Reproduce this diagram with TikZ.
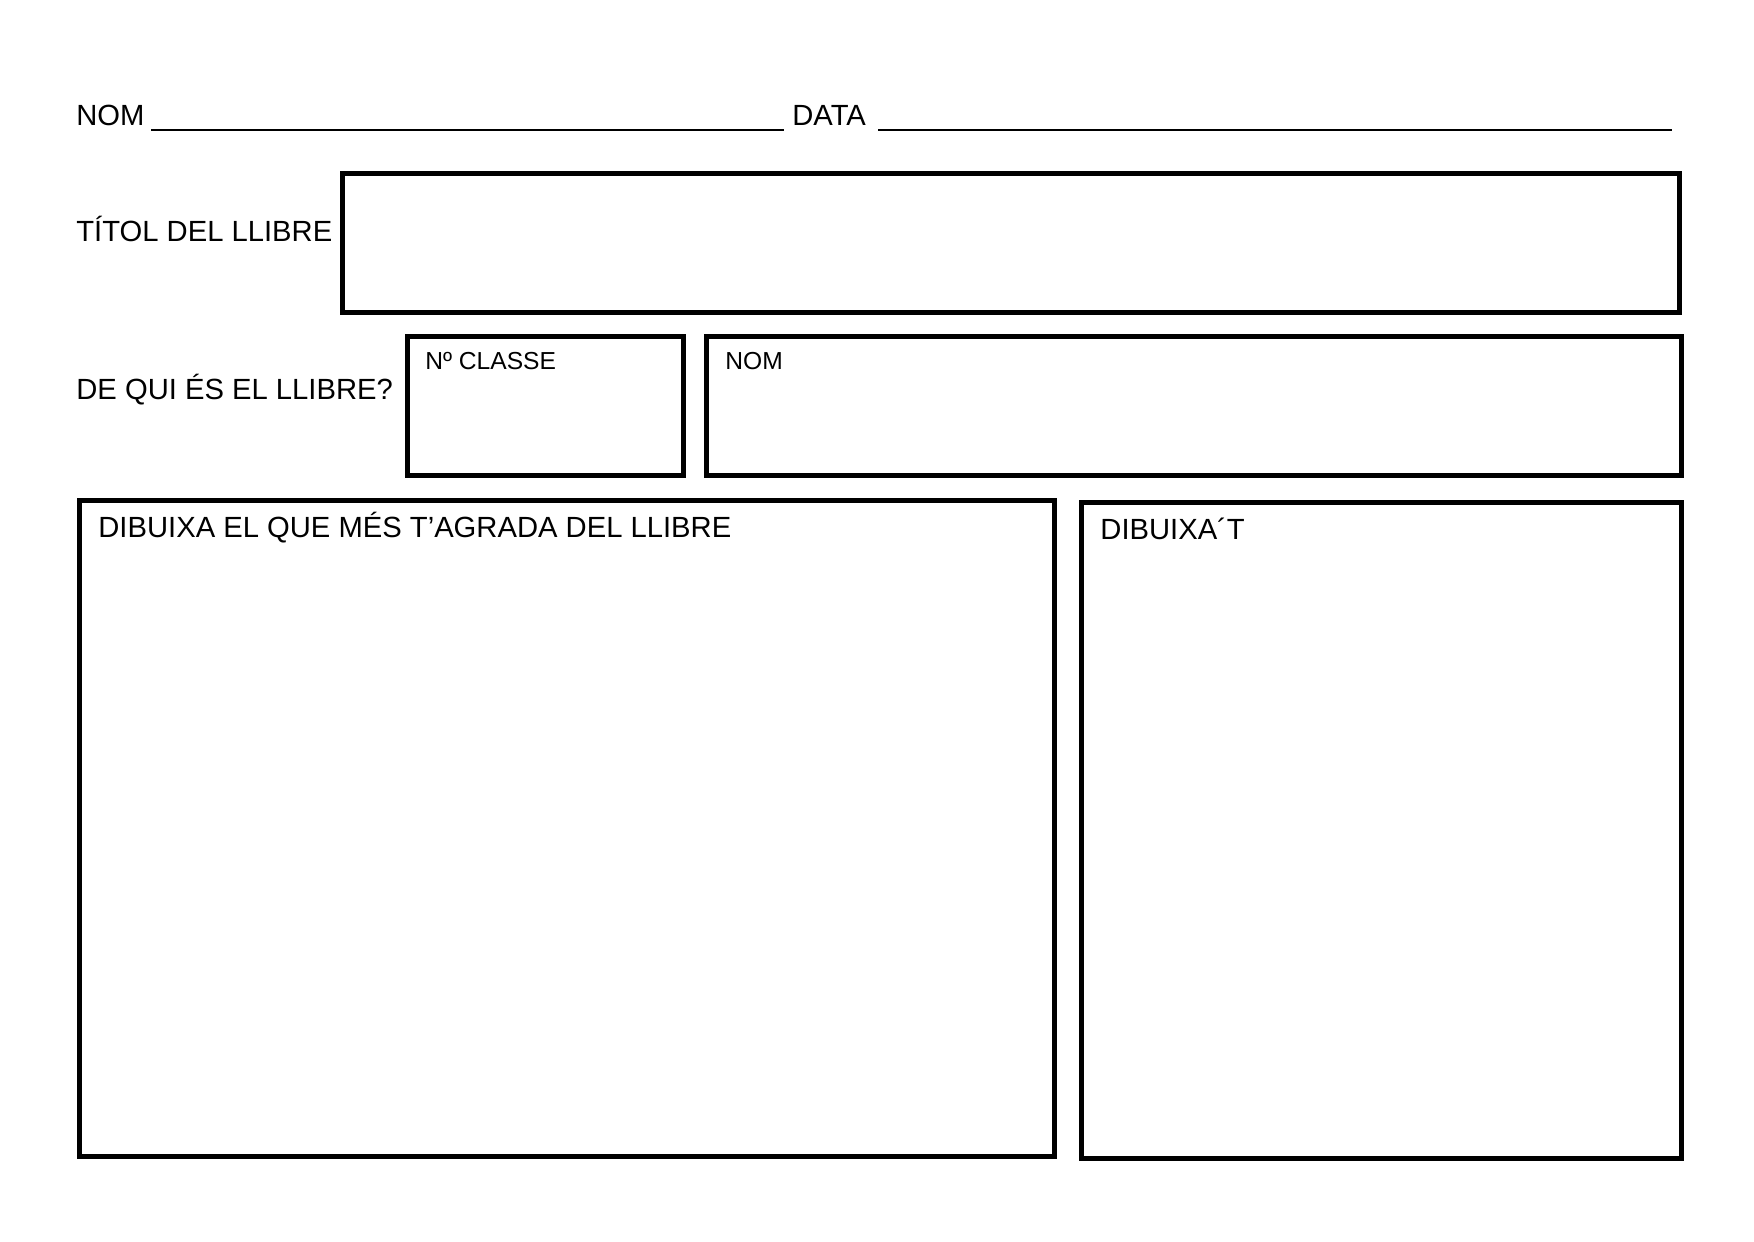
\documentclass[tikz,border=0pt]{standalone}
\usepackage{fontspec}
\setmainfont{Liberation Sans}
\usetikzlibrary{positioning}

\tikzset{
    lbl/.style={anchor=base west, inner sep=0pt, font=\fontsize{14.6}{16}\selectfont},
    smalllbl/.style={anchor=base west, inner sep=0pt, font=\fontsize{12.3}{14}\selectfont},
    boxline/.style={draw=black, line width=2.5pt},
    fillline/.style={draw=black, line width=1.4pt}
}

\begin{document}
\begin{tikzpicture}[x=0.5pt, y=-0.5pt]   %% pixel grid of the sheet
        \useasboundingbox (0,0) rectangle (1754,1241);

        %% header
        \node[lbl] (nomlabel) at (76,126) {NOM};
        \node[lbl] (datalabel) at (792,126) {DATA};
        \coordinate (nomline1) at (151,130);
        \coordinate (nomline2) at (784,130);
        \coordinate (dataline1) at (878,130);
        \coordinate (dataline2) at (1672,130);
        \draw [fillline] (nomline1)--(nomline2);
        \draw [fillline] (dataline1)--(dataline2);

        %% title of the book
        \node[lbl] (titollabel) at (76,242) {TÍTOL DEL LLIBRE};
        \draw [boxline] (342,174) rectangle (1679,312);

        %% whose book
        \node[lbl] (quilabel) at (76,399) {DE QUI ÉS EL LLIBRE?};
        \draw [boxline] (407,336) rectangle (683,475);
        \node[smalllbl] (classelabel) at (425,369) {Nº CLASSE};
        \draw [boxline] (706,336) rectangle (1681,475);
        \node[smalllbl] (nomboxlabel) at (725,369) {NOM};

        %% drawing boxes
        \draw [boxline] (79,500) rectangle (1054,1156);
        \node[lbl] (dibuixalabel) at (98,537) {DIBUIXA EL QUE MÉS T’AGRADA DEL LLIBRE};
        \draw [boxline] (1081,502) rectangle (1681,1158);
        \node[lbl] (dibuixatlabel) at (1100,539) {DIBUIXA´T};
    \end{tikzpicture}
\end{document}
